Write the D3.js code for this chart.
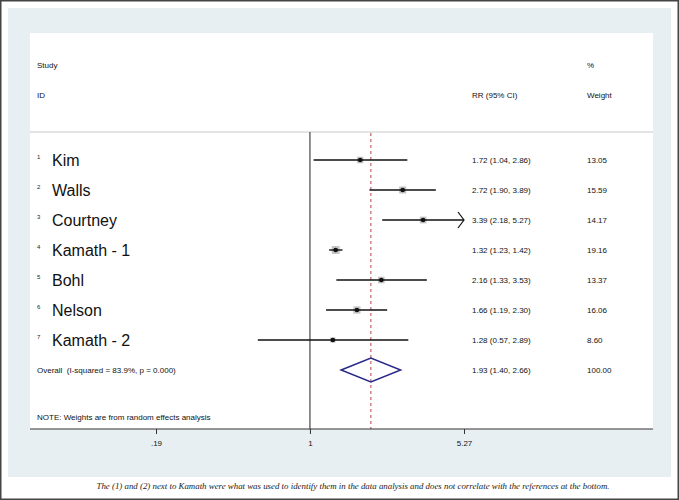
<!DOCTYPE html>
<html>
<head>
<meta charset="utf-8">
<script src="https://cdn.jsdelivr.net/npm/d3@7"></script>
<style>
  body { margin: 0; background: #fff; }
  svg { display: block; }
</style>
</head>
<body>
<svg id="chart" width="679" height="500"></svg>
<script>
// Study data
const studies = ['Kim', 'Walls', 'Courtney', 'Kamath - 1', 'Bohl', 'Nelson', 'Kamath - 2'];
const rr = [1.72, 2.72, 3.39, 1.32, 2.16, 1.66, 1.28];
const lower = [1.04, 1.90, 2.18, 1.23, 1.33, 1.19, 0.57];
const upper = [2.86, 3.89, 5.27, 1.42, 3.53, 2.30, 2.89];
const weights = [13.05, 15.59, 14.17, 19.16, 13.37, 16.06, 8.60];

// Pooled estimate
const overallRR = 1.93;
const overallLower = 1.40;
const overallUpper = 2.66;
const overallLabel = 'Overall  (I-squared = 83.9%, p = 0.000)';

// Axis ticks
const tickValues = [0.19, 1, 5.27];
const tickLabels = ['.19', '1', '5.27'];

const fmt = d3.format('.2f');
const sans = 'Helvetica, Arial, "Liberation Sans", sans-serif';

const svg = d3.select('#chart');

// Outer frame and panels
svg.append('rect')
  .attr('x', 0.75).attr('y', 0.75)
  .attr('width', 677.5).attr('height', 498.5)
  .attr('fill', '#fff')
  .attr('stroke', '#444')
  .attr('stroke-width', 1.5);

svg.append('rect')
  .attr('x', 8).attr('y', 8)
  .attr('width', 663).attr('height', 469)
  .attr('fill', '#e8eff2');

svg.append('rect')
  .attr('x', 30).attr('y', 33)
  .attr('width', 623).attr('height', 396)
  .attr('fill', '#fff');

// Scales
const x = d3.scaleLog()
  .domain([0.19, 5.27])
  .range([156, 464]);

const rows = studies.concat(['Overall']);
const y = d3.scalePoint()
  .domain(rows)
  .range([160, 370]);

const topY = 132, axisY = 429;

// Header
const header = svg.append('g')
  .attr('font-family', sans)
  .attr('font-size', 8)
  .attr('fill', '#111');
header.append('text').attr('x', 37).attr('y', 68).text('Study');
header.append('text').attr('x', 37).attr('y', 98).text('ID');
header.append('text').attr('x', 587).attr('y', 68).text('%');
header.append('text').attr('x', 472).attr('y', 98).text('RR (95% CI)');
header.append('text').attr('x', 587).attr('y', 98).text('Weight');

svg.append('line')
  .attr('x1', 30).attr('x2', 653)
  .attr('y1', topY).attr('y2', topY)
  .attr('stroke', '#c8c8c8')
  .attr('stroke-width', 1);

// Null line at RR = 1
svg.append('line')
  .attr('x1', x(1)).attr('x2', x(1))
  .attr('y1', topY).attr('y2', axisY)
  .attr('stroke', '#555')
  .attr('stroke-width', 1.3);

// Pooled estimate line
svg.append('line')
  .attr('x1', x(overallRR)).attr('x2', x(overallRR))
  .attr('y1', topY + 1).attr('y2', axisY)
  .attr('stroke', '#b5404f')
  .attr('stroke-width', 1)
  .attr('stroke-dasharray', '3,3');

// Study rows
const data = studies.map((s, i) => ({
  name: s, id: i + 1, rr: rr[i], lo: lower[i], hi: upper[i], w: weights[i]
}));

const row = svg.selectAll('.study')
  .data(data)
  .enter()
  .append('g')
  .attr('class', 'study');

// weight boxes
row.append('rect')
  .attr('x', d => x(d.rr) - 0.9 * Math.sqrt(d.w))
  .attr('y', d => y(d.name) - 0.9 * Math.sqrt(d.w))
  .attr('width', d => 1.8 * Math.sqrt(d.w))
  .attr('height', d => 1.8 * Math.sqrt(d.w))
  .attr('fill', '#c4c4c4');

// confidence intervals
row.append('line')
  .attr('x1', d => x(Math.max(d.lo, 0.19)))
  .attr('x2', d => x(Math.min(d.hi, 5.27)))
  .attr('y1', d => y(d.name))
  .attr('y2', d => y(d.name))
  .attr('stroke', '#111')
  .attr('stroke-width', 1.4);

// arrow where the interval reaches the axis limit
row.filter(d => d.hi >= 5.27)
  .append('path')
  .attr('d', d => {
    const xe = x(5.27), yy = y(d.name);
    return `M${xe - 6},${yy - 8}L${xe},${yy}L${xe - 6},${yy + 8}`;
  })
  .attr('fill', 'none')
  .attr('stroke', '#111')
  .attr('stroke-width', 1.2);

row.append('circle')
  .attr('cx', d => x(d.rr))
  .attr('cy', d => y(d.name))
  .attr('r', 2.3)
  .attr('fill', '#111');

// labels
row.append('text')
  .attr('x', 37)
  .attr('y', d => y(d.name) - 1.5)
  .attr('font-family', sans)
  .attr('font-size', 6)
  .attr('fill', '#222')
  .text(d => d.id);

row.append('text')
  .attr('x', 52)
  .attr('y', d => y(d.name) + 5.5)
  .attr('font-family', sans)
  .attr('font-size', 16)
  .attr('fill', '#111')
  .text(d => d.name);

row.append('text')
  .attr('x', 472)
  .attr('y', d => y(d.name) + 3)
  .attr('font-family', sans)
  .attr('font-size', 8)
  .attr('fill', '#111')
  .text(d => `${fmt(d.rr)} (${fmt(d.lo)}, ${fmt(d.hi)})`);

row.append('text')
  .attr('x', 587)
  .attr('y', d => y(d.name) + 3)
  .attr('font-family', sans)
  .attr('font-size', 8)
  .attr('fill', '#111')
  .text(d => fmt(d.w));

// Overall row
const oy = y('Overall');
svg.append('path')
  .attr('d', `M${x(overallLower)},${oy}L${x(overallRR)},${oy - 12}L${x(overallUpper)},${oy}L${x(overallRR)},${oy + 12}Z`)
  .attr('fill', 'none')
  .attr('stroke', '#28288a')
  .attr('stroke-width', 1.5);

const ot = svg.append('g')
  .attr('font-family', sans)
  .attr('font-size', 8)
  .attr('fill', '#111');
ot.append('text').attr('x', 37).attr('y', oy + 3).attr('xml:space', 'preserve').text(overallLabel);
ot.append('text').attr('x', 472).attr('y', oy + 3)
  .text(`${fmt(overallRR)} (${fmt(overallLower)}, ${fmt(overallUpper)})`);
ot.append('text').attr('x', 587).attr('y', oy + 3).text(fmt(100));
ot.append('text').attr('x', 37).attr('y', 420)
  .text('NOTE: Weights are from random effects analysis');

// X axis
svg.append('line')
  .attr('x1', 30).attr('x2', 653)
  .attr('y1', axisY).attr('y2', axisY)
  .attr('stroke', '#333')
  .attr('stroke-width', 1);

const axis = svg.append('g')
  .attr('transform', `translate(0, ${axisY})`)
  .call(d3.axisBottom(x)
    .tickValues(tickValues)
    .tickSize(5)
    .tickPadding(6)
    .tickFormat((d, i) => tickLabels[i]));

axis.select('.domain').remove();
axis.selectAll('.tick line').attr('stroke', '#333');
axis.selectAll('.tick text')
  .attr('font-family', sans)
  .attr('font-size', 8)
  .attr('fill', '#111');

// Caption
svg.append('text')
  .attr('x', 353)
  .attr('y', 489)
  .attr('text-anchor', 'middle')
  .attr('font-family', '"Liberation Serif", "Times New Roman", serif')
  .attr('font-style', 'italic')
  .attr('font-size', 8.85)
  .attr('fill', '#222')
  .text('The (1) and (2) next to Kamath were what was used to identify them in the data analysis and does not correlate with the references at the bottom.');
</script>
</body>
</html>
